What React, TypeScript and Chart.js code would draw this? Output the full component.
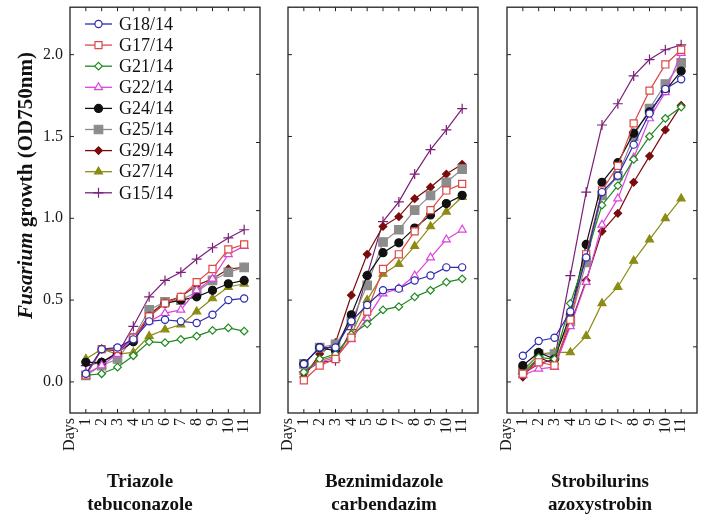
import React, { useEffect, useRef } from 'react';
import { Chart, registerables } from 'chart.js';
import { drawPoint } from 'chart.js/helpers';

Chart.register(...registerables);

const W = 708;
const H = 516;

// ---------- data ----------
const DAYS = [1, 2, 3, 4, 5, 6, 7, 8, 9, 10, 11];
const X_TICK_VALUES = [0, 1, 2, 3, 4, 5, 6, 7, 8, 9, 10, 11];
const X_TICK_LABELS = ['Days', '1', '2', '3', '4', '5', '6', '7', '8', '9', '10', '11'];
const Y_TICKS = [0, 0.5, 1.0, 1.5, 2.0];
const SERIES_NAMES = ['G18/14', 'G17/14', 'G21/14', 'G22/14', 'G24/14', 'G25/14', 'G29/14', 'G27/14', 'G15/14'];

// Triazole tebuconazole (order = SERIES_NAMES)
const TRIAZOLE = [
  [0.05, 0.20, 0.21, 0.26, 0.37, 0.38, 0.37, 0.36, 0.41, 0.50, 0.51],
  [0.04, 0.20, 0.20, 0.27, 0.40, 0.48, 0.52, 0.61, 0.69, 0.81, 0.84],
  [0.04, 0.05, 0.09, 0.16, 0.245, 0.24, 0.26, 0.28, 0.315, 0.33, 0.31],
  [0.05, 0.10, 0.17, 0.27, 0.37, 0.42, 0.44, 0.56, 0.63, 0.78, 0.83],
  [0.12, 0.12, 0.18, 0.245, 0.40, 0.48, 0.50, 0.52, 0.56, 0.60, 0.62],
  [0.04, 0.10, 0.14, 0.27, 0.44, 0.49, 0.50, 0.55, 0.62, 0.67, 0.70],
  [0.04, 0.20, 0.19, 0.26, 0.41, 0.49, 0.52, 0.59, 0.63, 0.69, 0.70],
  [0.14, 0.20, 0.17, 0.18, 0.28, 0.32, 0.35, 0.43, 0.51, 0.58, 0.60],
  [0.10, 0.12, 0.17, 0.34, 0.52, 0.62, 0.67, 0.75, 0.82, 0.88, 0.93],
];

// Beznimidazole carbendazim
const BENZIMIDAZOLE = [
  [0.11, 0.21, 0.21, 0.37, 0.47, 0.56, 0.57, 0.62, 0.65, 0.70, 0.70],
  [0.01, 0.10, 0.14, 0.27, 0.43, 0.69, 0.78, 0.92, 1.05, 1.17, 1.21],
  [0.06, 0.14, 0.17, 0.29, 0.355, 0.44, 0.46, 0.52, 0.56, 0.61, 0.63],
  [0.07, 0.12, 0.15, 0.26, 0.39, 0.54, 0.57, 0.65, 0.76, 0.87, 0.93],
  [0.11, 0.21, 0.19, 0.41, 0.65, 0.79, 0.85, 0.94, 1.02, 1.09, 1.14],
  [0.11, 0.21, 0.23, 0.37, 0.59, 0.855, 0.93, 1.05, 1.14, 1.22, 1.30],
  [0.03, 0.17, 0.24, 0.53, 0.78, 0.95, 1.01, 1.12, 1.19, 1.27, 1.33],
  [0.06, 0.13, 0.16, 0.29, 0.50, 0.66, 0.72, 0.83, 0.95, 1.04, 1.13],
  [0.06, 0.12, 0.13, 0.32, 0.65, 0.98, 1.10, 1.27, 1.42, 1.54, 1.67],
];

// Strobilurins azoxystrobin
const STROBILURINS = [
  [0.16, 0.25, 0.27, 0.43, 0.76, 1.16, 1.26, 1.45, 1.64, 1.79, 1.85],
  [0.05, 0.12, 0.10, 0.38, 0.78, 1.17, 1.32, 1.58, 1.78, 1.94, 2.03],
  [0.05, 0.15, 0.14, 0.48, 0.77, 1.08, 1.20, 1.36, 1.50, 1.61, 1.68],
  [0.04, 0.08, 0.09, 0.34, 0.61, 0.96, 1.12, 1.37, 1.61, 1.77, 2.01],
  [0.10, 0.18, 0.14, 0.41, 0.84, 1.22, 1.34, 1.52, 1.65, 1.78, 1.90],
  [0.07, 0.17, 0.17, 0.37, 0.73, 1.14, 1.26, 1.50, 1.67, 1.82, 1.95],
  [0.03, 0.15, 0.11, 0.35, 0.62, 0.92, 1.03, 1.22, 1.38, 1.54, 1.69],
  [0.06, 0.17, 0.18, 0.18, 0.28, 0.48, 0.58, 0.74, 0.87, 1.00, 1.12],
  [0.05, 0.11, 0.14, 0.65, 1.16, 1.57, 1.70, 1.87, 1.97, 2.03, 2.06],
];

const PANEL_TITLES = [
  ['Triazole', 'tebuconazole'],
  ['Beznimidazole', 'carbendazim'],
  ['Strobilurins', 'azoxystrobin'],
];
const Y_TITLE_ITALIC = 'Fusarium';
const Y_TITLE_REST = ' growth (OD750nm)';

// ---------- styles ----------
const SERIF = '"Liberation Serif", "Times New Roman", serif';
const STYLES = [
  { color: '#2b2bb0', point: 'circle', fill: false, r: 3.6 },
  { color: '#dd4a45', point: 'rect', fill: false, r: 5 },
  { color: '#1f8a1f', point: 'rectRot', fill: false, r: 3.8 },
  { color: '#dd44dd', point: 'triangle', fill: false, r: 4.6 },
  { color: '#111111', point: 'circle', fill: true, r: 4 },
  { color: '#8c8c8c', point: 'rect', fill: true, r: 6 },
  { color: '#7a0c0c', point: 'rectRot', fill: true, r: 3.8 },
  { color: '#8c8c14', point: 'triangle', fill: true, r: 4.6 },
  { color: '#7a1f7a', point: 'cross', fill: false, r: 5 },
];

const TOP = 2;
const BOTTOM = 413;
const Y_AXIS_W = 60;
const X_AXIS_H = 60;
const PANELS = [
  { left: 70, right: 260, values: TRIAZOLE, titleX: 140, first: true },
  { left: 288, right: 478, values: BENZIMIDAZOLE, titleX: 384, first: false },
  { left: 507, right: 697, values: STROBILURINS, titleX: 600, first: false },
];

const fixFit = (horizontal: boolean, size: number) => (scale: any) => {
  if (horizontal) scale.height = size;
  else scale.width = size;
  scale.paddingTop = 0;
  scale.paddingBottom = 0;
  scale.paddingLeft = 0;
  scale.paddingRight = 0;
};

const framePlugin = {
  id: 'frame',
  afterDatasetsDraw(chart: any) {
    const { ctx, chartArea } = chart;
    const { left, right, top, bottom } = chartArea;
    const tl = 4;
    ctx.save();
    ctx.strokeStyle = '#222';
    ctx.lineWidth = 1.3;
    ctx.strokeRect(left, top, right - left, bottom - top);
    ctx.lineWidth = 1;
    ctx.beginPath();
    const xs = chart.scales.x;
    DAYS.forEach((d) => {
      const px = xs.getPixelForValue(d);
      ctx.moveTo(px, top);
      ctx.lineTo(px, top + tl);
      ctx.moveTo(px, bottom);
      ctx.lineTo(px, bottom - tl);
    });
    const ys = chart.scales.y;
    Y_TICKS.forEach((v) => {
      const py = ys.getPixelForValue(v);
      ctx.moveTo(left, py);
      ctx.lineTo(left + tl, py);
    });
    const y2 = chart.scales.y2;
    [1, 2, 3, 4, 5].forEach((v) => {
      const py = y2.getPixelForValue(v);
      ctx.moveTo(right, py);
      ctx.lineTo(right - tl, py);
    });
    ctx.stroke();
    ctx.restore();
  },
};

const legendPlugin = {
  id: 'innerLegend',
  afterDatasetsDraw(chart: any) {
    const { ctx } = chart;
    ctx.save();
    chart.data.datasets.forEach((ds: any, i: number) => {
      const st = STYLES[i];
      const y = 24 + 21.1 * i;
      ctx.strokeStyle = st.color;
      ctx.lineWidth = 1.3;
      ctx.beginPath();
      ctx.moveTo(85, y);
      ctx.lineTo(112, y);
      ctx.stroke();
      ctx.fillStyle = st.fill ? st.color : '#ffffff';
      ctx.strokeStyle = st.color;
      ctx.lineWidth = 1.2;
      drawPoint(ctx, { pointStyle: st.point, rotation: 0, radius: st.r, borderWidth: 1.2 } as any, 98.5, y);
      ctx.fillStyle = '#111';
      ctx.font = `18px ${SERIF}`;
      ctx.textAlign = 'left';
      ctx.textBaseline = 'middle';
      ctx.fillText(ds.label, 119, y + 1);
    });
    ctx.restore();
  },
};

const yTitlePlugin = {
  id: 'yTitle',
  afterDraw(chart: any) {
    const { ctx } = chart;
    ctx.save();
    const f1 = `italic bold 21px ${SERIF}`;
    const f2 = `bold 21px ${SERIF}`;
    ctx.font = f1;
    const w1 = ctx.measureText(Y_TITLE_ITALIC).width;
    ctx.font = f2;
    const w2 = ctx.measureText(Y_TITLE_REST).width;
    const total = w1 + w2;
    ctx.translate(27, 185.5);
    ctx.rotate(-Math.PI / 2);
    ctx.fillStyle = '#111';
    ctx.textBaseline = 'middle';
    ctx.textAlign = 'left';
    ctx.font = f1;
    ctx.fillText(Y_TITLE_ITALIC, -total / 2, 0);
    ctx.font = f2;
    ctx.fillText(Y_TITLE_REST, -total / 2 + w1, 0);
    ctx.restore();
  },
};

const makeTitlePlugin = (lines: string[], cx: number) => ({
  id: 'panelTitle',
  afterDraw(chart: any) {
    const { ctx } = chart;
    ctx.save();
    ctx.fillStyle = '#111';
    ctx.font = `bold 19px ${SERIF}`;
    ctx.textAlign = 'center';
    ctx.textBaseline = 'alphabetic';
    ctx.fillText(lines[0], cx, 487);
    ctx.fillText(lines[1], cx, 510);
    ctx.restore();
  },
});

function buildConfig(pIndex: number): any {
  const p = PANELS[pIndex];
  const datasets = SERIES_NAMES.map((name, i) => {
    const st = STYLES[i];
    return {
      label: name,
      data: DAYS.map((d, k) => ({ x: d, y: p.values[i][k] })),
      borderColor: st.color,
      backgroundColor: st.color,
      borderWidth: 1.2,
      pointStyle: st.point,
      pointRadius: st.r,
      pointHoverRadius: st.r,
      pointBorderColor: st.color,
      pointBackgroundColor: st.fill ? st.color : '#ffffff',
      pointBorderWidth: 1.2,
      tension: 0,
      fill: false,
    };
  });
  const plugins: any[] = [framePlugin, makeTitlePlugin(PANEL_TITLES[pIndex], p.titleX)];
  if (p.first) {
    plugins.push(legendPlugin, yTitlePlugin);
  }
  return {
    type: 'line',
    data: { datasets },
    plugins,
    options: {
      animation: false,
      responsive: false,
      maintainAspectRatio: false,
      devicePixelRatio: 1,
      events: [],
      layout: {
        padding: {
          left: p.left - Y_AXIS_W,
          right: W - p.right,
          top: TOP,
          bottom: H - BOTTOM - X_AXIS_H,
        },
      },
      plugins: { legend: { display: false }, tooltip: { enabled: false }, title: { display: false } },
      scales: {
        x: {
          type: 'linear',
          position: 'bottom',
          min: 0,
          max: 12,
          grid: { display: false, drawTicks: false },
          border: { display: false },
          afterBuildTicks: (s: any) => {
            s.ticks = X_TICK_VALUES.map((v) => ({ value: v }));
          },
          afterFit: fixFit(true, X_AXIS_H),
          ticks: {
            autoSkip: false,
            minRotation: 90,
            maxRotation: 90,
            padding: 5,
            color: '#1a1a1a',
            font: { family: SERIF, size: 16 },
            callback: (v: any) => X_TICK_LABELS[X_TICK_VALUES.indexOf(Number(v))] ?? '',
          },
        },
        y: {
          type: 'linear',
          position: 'left',
          min: -0.19,
          max: 2.29,
          grid: { display: false, drawTicks: false },
          border: { display: false },
          afterBuildTicks: (s: any) => {
            s.ticks = Y_TICKS.map((v) => ({ value: v }));
          },
          afterFit: fixFit(false, Y_AXIS_W),
          ticks: {
            display: p.first,
            padding: 7,
            color: '#1a1a1a',
            font: { family: SERIF, size: 16 },
            callback: (v: any) => Number(v).toFixed(1),
          },
        },
        y2: {
          type: 'linear',
          position: 'right',
          min: 0.029,
          max: 5.986,
          grid: { display: false, drawTicks: false },
          border: { display: false },
          afterBuildTicks: (s: any) => {
            s.ticks = [1, 2, 3, 4, 5].map((v) => ({ value: v }));
          },
          afterFit: fixFit(false, 0),
          ticks: { display: false },
        },
      },
    },
  };
}

export default function App() {
  const r0 = useRef<HTMLCanvasElement | null>(null);
  const r1 = useRef<HTMLCanvasElement | null>(null);
  const r2 = useRef<HTMLCanvasElement | null>(null);

  useEffect(() => {
    const refs = [r0, r1, r2];
    const charts = refs.map((r, i) => new Chart(r.current as HTMLCanvasElement, buildConfig(i)));
    return () => charts.forEach((c) => c.destroy());
  }, []);

  const cstyle: React.CSSProperties = { position: 'absolute', left: 0, top: 0, width: W, height: H };
  return (
    <div style={{ position: 'fixed', left: 0, top: 0, width: W, height: H, background: '#ffffff', overflow: 'hidden' }}>
      <canvas ref={r0} width={W} height={H} style={cstyle} />
      <canvas ref={r1} width={W} height={H} style={cstyle} />
      <canvas ref={r2} width={W} height={H} style={cstyle} />
    </div>
  );
}
